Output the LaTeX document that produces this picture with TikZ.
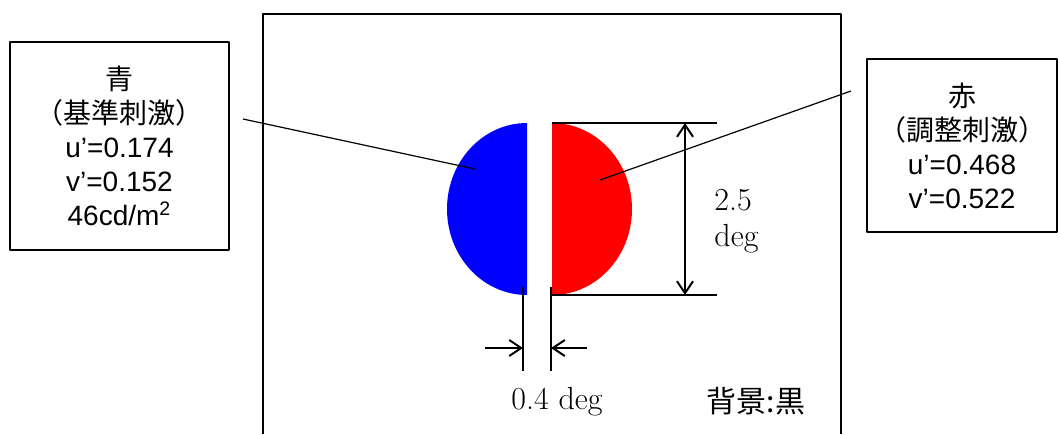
\documentclass[tikz,border=0pt]{standalone}
\usepackage{fontspec}
\setsansfont{Liberation Sans}
\newfontfamily\jp{Noto Sans CJK JP}
\usetikzlibrary{arrows.meta}
\begin{document}
\begin{tikzpicture}[x=0.5pt,y=-0.5pt,line join=round,>={Straight Barb[length=6pt,width=8pt]}]
	\tikzset{infobox/.style={draw,line width=0.6pt,align=center,inner sep=0pt,font=\sffamily\fontsize{14}{17}\selectfont},
		leader/.style={line width=0.6pt},
		dimline/.style={line width=1pt},
		degtext/.style={font=\fontsize{16}{17}\selectfont,inner sep=0pt}}
	\useasboundingbox (0,0) rectangle (1059,434);
	% frame (background)
	\draw[line width=1pt] (263,434) |- (841,14) -- (841,434);
	% half discs
	\fill[blue] (527,123) arc[start angle=90,end angle=270,x radius=40pt,y radius=43pt] -- cycle;
	\fill[red] (552,295) arc[start angle=-90,end angle=90,x radius=40pt,y radius=43pt] -- cycle;
	\foreach \x/\y/\n in {475/169/bluept,243/119/blueend,600/180/redpt,851/91/redend,
		552/123/ta,717/123/tb,552/295/ba,717/295/bb,685/123/vt,685/295/vb,
		523/287/la,523/371/lb,551/287/ra,551/371/rb,485/348/lo,587/348/ro,523/348/li,551/348/ri}
		\coordinate (\n) at (\x,\y);
	% boxes
	\node[infobox,minimum width=109.5pt,minimum height=104pt] (bluebox) at (119.5,146)
		{{\jp 青}\\{\jp （基準刺激）}\\u’=0.174\\v’=0.152\\46cd/m\textsuperscript{2}};
	\node[infobox,minimum width=95pt,minimum height=86.5pt] (redbox) at (962,145.5)
		{{\jp 赤}\\{\jp （調整刺激）}\\u’=0.468\\v’=0.522};
	\draw[leader] (blueend) -- (bluept);
	\draw[leader] (redend) -- (redpt);
	% 2.5 deg
	\draw[dimline] (ta) -- (tb) (ba) -- (bb);
	\draw[dimline,<->] (vt) -- (vb);
	\node[degtext,align=left,anchor=west] (height) at (714,221) {2.5\\[1pt]deg};
	% 0.4 deg
	\draw[dimline] (la) -- (lb) (ra) -- (rb);
	\draw[dimline,->] (lo) -- (li);
	\draw[dimline,->] (ro) -- (ri);
	\node[degtext] (gap) at (557,402) {0.4 deg};
	\node[font=\jp\fontsize{15}{17}\selectfont,inner sep=0pt] (bg) at (756,401) {背景:黒};
\end{tikzpicture}
\end{document}
